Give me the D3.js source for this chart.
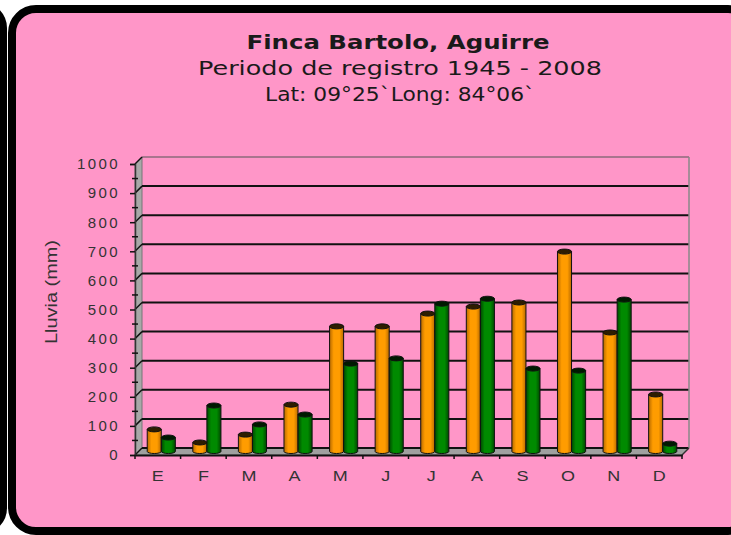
<!DOCTYPE html>
<html>
<head>
<meta charset="utf-8">
<script src="https://cdn.jsdelivr.net/npm/d3@7/dist/d3.min.js"></script>
<style>
  html, body { margin: 0; padding: 0; background: #fff; }
  svg { display: block; }
</style>
</head>
<body>
<svg id="chart" width="731" height="535"></svg>
<script>
// Monthly rainfall, Finca Bartolo (Aguirre)
const months = ["E", "F", "M", "A", "M", "J", "J", "A", "S", "O", "N", "D"];
const seriesNames = ["promedio", "periodo"];
const rainOrange = [76, 31, 58, 161, 430, 430, 474, 498, 512, 687, 409, 196];
const rainGreen = [48, 158, 93, 127, 302, 320, 508, 525, 285, 278, 522, 27];
const yTicks = [0, 100, 200, 300, 400, 500, 600, 700, 800, 900, 1000];
const titleLines = ["Finca Bartolo, Aguirre", "Periodo de registro 1945 - 2008", "Lat: 09°25`Long: 84°06`"];
const yTitle = "Lluvia (mm)";

const svg = d3.select("#chart");

// panel frames
svg.append("rect").attr("x", -70).attr("y", 6).attr("width", 73).attr("height", 524)
  .attr("rx", 22).attr("fill", "#fff").attr("stroke", "#000").attr("stroke-width", 8);
svg.append("rect").attr("x", 12).attr("y", 9).attr("width", 740).attr("height", 522)
  .attr("rx", 24).attr("fill", "#FF96C8").attr("stroke", "#000").attr("stroke-width", 8);

// titles
const tl = svg.append("g").attr("font-family", "DejaVu Sans, Verdana, sans-serif")
  .attr("fill", "#1a1a1a").attr("text-anchor", "middle");
tl.append("text").attr("x", 398).attr("y", 49).attr("font-size", 20).attr("font-weight", "bold")
  .attr("textLength", 303).attr("lengthAdjust", "spacingAndGlyphs").text(titleLines[0]);
tl.append("text").attr("x", 400).attr("y", 75).attr("font-size", 20)
  .attr("textLength", 404).attr("lengthAdjust", "spacingAndGlyphs").text(titleLines[1]);
tl.append("text").attr("x", 400).attr("y", 101).attr("font-size", 20)
  .attr("textLength", 270).attr("lengthAdjust", "spacingAndGlyphs").text(titleLines[2]);

// 3D layout: front plane, depth offset
const x0 = 135, x1 = 682, yBase = 455, yTop = 164;
const dx = 7, dy = -7;

const xCat = d3.scaleBand().domain(d3.range(months.length)).range([x0, x1]).padding(0);
const xSer = d3.scaleBand().domain(seriesNames).range([0, xCat.bandwidth()]).paddingInner(0).paddingOuter(0.62);
const yFront = d3.scaleLinear().domain([0, 1000]).range([yBase, yTop]);
const yBack = d3.scaleLinear().domain([0, 1000]).range([yBase + dy, yTop + dy]);
const yMid = d3.scaleLinear().domain([0, 1000]).range([yBase + dy / 2, yTop + dy / 2]);

// left side wall
svg.append("path")
  .attr("d", `M${x0},${yFront(0)} L${x0},${yFront(1000)} L${x0 + dx},${yBack(1000)} L${x0 + dx},${yBack(0)} Z`)
  .attr("fill", "#a8a8a8").attr("stroke", "#777").attr("stroke-width", 1);
// floor
svg.append("path")
  .attr("d", `M${x0},${yFront(0)} L${x1},${yFront(0)} L${x1 + dx},${yBack(0)} L${x0 + dx},${yBack(0)} Z`)
  .attr("fill", "#a0a0a0").attr("stroke", "#777").attr("stroke-width", 1);

// back wall gridlines + diagonal on side wall
const grid = svg.append("g");
yTicks.forEach(v => {
  grid.append("line").attr("x1", x0 + dx).attr("x2", x1 + dx)
    .attr("y1", yBack(v)).attr("y2", yBack(v))
    .attr("stroke", v === 1000 ? "#555" : "#111").attr("stroke-width", v === 1000 ? 1.2 : 2);
  grid.append("line").attr("x1", x0).attr("x2", x0 + dx)
    .attr("y1", yFront(v)).attr("y2", yBack(v))
    .attr("stroke", "#111").attr("stroke-width", 1.5);
});
// right edge of back wall
svg.append("line").attr("x1", x1 + dx).attr("x2", x1 + dx)
  .attr("y1", yBack(1000)).attr("y2", yBack(0)).attr("stroke", "#888").attr("stroke-width", 1.5);
svg.append("line").attr("x1", x1 + dx).attr("x2", x1)
  .attr("y1", yBack(0)).attr("y2", yFront(0)).attr("stroke", "#333").attr("stroke-width", 1.5);

// y axis (front)
const yAxis = d3.axisLeft(yFront).tickValues(yTicks).tickFormat(d3.format("d")).tickSize(5).tickPadding(10);
const ya = svg.append("g").attr("transform", `translate(${x0},0)`).call(yAxis);
ya.select(".domain").attr("stroke", "#333").attr("stroke-width", 1.5);
ya.selectAll(".tick line").attr("stroke", "#111").attr("stroke-width", 1.5);
ya.selectAll(".tick text").attr("font-family", "Liberation Sans, Arial, sans-serif")
  .attr("font-size", 15).attr("fill", "#333").attr("letter-spacing", "2.4px");
// minor ticks
svg.append("g").selectAll("line").data(d3.range(50, 1000, 100)).join("line")
  .attr("x1", x0 - 3).attr("x2", x0 + 3)
  .attr("y1", d => yFront(d)).attr("y2", d => yFront(d))
  .attr("stroke", "#111").attr("stroke-width", 1.5);

// bars (cylinders at mid depth)
const colors = {
  promedio: { body: "#FF9C00", dark: "#B86A00", cap: "#2e1d00" },
  periodo: { body: "#008A00", dark: "#004800", cap: "#001a00" }
};
const defs = svg.append("defs");
seriesNames.forEach(s => {
  const g = defs.append("linearGradient").attr("id", "g-" + s).attr("x1", 0).attr("x2", 1);
  g.append("stop").attr("offset", "0%").attr("stop-color", colors[s].dark);
  g.append("stop").attr("offset", "30%").attr("stop-color", colors[s].body);
  g.append("stop").attr("offset", "70%").attr("stop-color", colors[s].body);
  g.append("stop").attr("offset", "100%").attr("stop-color", colors[s].dark);
});

const barData = [];
months.forEach((m, i) => {
  barData.push({ i, s: "promedio", v: rainOrange[i] });
  barData.push({ i, s: "periodo", v: rainGreen[i] });
});
const bw = xSer.bandwidth();
const bars = svg.append("g").selectAll("g").data(barData).join("g")
  .attr("transform", d => `translate(${xCat(d.i) + xSer(d.s) + dx / 2},0)`);
bars.append("path")
  .attr("d", d => {
    const t = yMid(d.v), b = yMid(0);
    return `M0,${t} L0,${b} A${bw / 2},2 0 0 0 ${bw},${b} L${bw},${t} Z`;
  })
  .attr("fill", d => `url(#g-${d.s})`).attr("stroke", "#111").attr("stroke-width", 1);
bars.append("ellipse")
  .attr("cx", bw / 2).attr("cy", d => yMid(d.v)).attr("rx", bw / 2).attr("ry", 2.5)
  .attr("fill", d => colors[d.s].cap).attr("stroke", "#111").attr("stroke-width", 1);

// x axis (front)
const xa = svg.append("g").attr("transform", `translate(0,${yBase})`)
  .call(d3.axisBottom(xCat).tickSize(0).tickPadding(19).tickFormat(i => months[i]));
xa.select(".domain").attr("stroke", "#111").attr("stroke-width", 2);
xa.selectAll(".tick text").attr("font-family", "Liberation Sans, Arial, sans-serif")
  .attr("font-size", 15).attr("fill", "#333").attr("dy", "0.5em")
  .attr("transform", "scale(1.2,1)");
// category boundary ticks
svg.append("g").selectAll("line").data(d3.range(months.length + 1)).join("line")
  .attr("x1", i => x0 + i * xCat.step()).attr("x2", i => x0 + i * xCat.step())
  .attr("y1", yBase).attr("y2", yBase + 4).attr("stroke", "#111").attr("stroke-width", 1.5);

// y title
svg.append("text").attr("transform", "translate(57,292) rotate(-90)")
  .attr("text-anchor", "middle").attr("font-family", "Liberation Sans Narrow, Liberation Sans, Arial, sans-serif")
  .attr("font-size", 16).attr("fill", "#333")
  .attr("textLength", 104).attr("lengthAdjust", "spacingAndGlyphs").text(yTitle);
</script>
</body>
</html>
